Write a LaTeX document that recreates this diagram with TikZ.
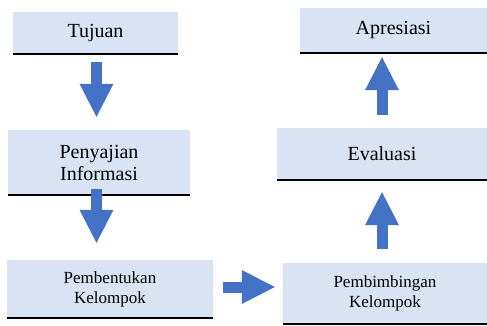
\documentclass[tikz,border=0pt]{standalone}
\usepackage{fontspec}
\setmainfont{Liberation Serif}
\usetikzlibrary{arrows.meta}
\definecolor{boxblue}{HTML}{DAE3F3}
\definecolor{arrowblue}{HTML}{4472C4}

\begin{document}
\begin{tikzpicture}[x=1pt,y=-1pt,
	box/.style={fill=boxblue, inner sep=0pt, align=center, font=\fontsize{20}{22}\selectfont},
	smallbox/.style={box, font=\fontsize{17}{20}\selectfont},
	blockarrow/.style={draw=arrowblue, line width=11pt, -{Triangle[length=33pt,width=34pt,line width=0pt]}}]
	\useasboundingbox (0,0) rectangle (487,325);
	% left column
	\node[box, minimum width=165pt, minimum height=42pt] (tujuan) at (95.5,33) {Tujuan};
	\node[box, minimum width=182pt, minimum height=65pt] (saji) at (99,162.5) {Penyajian\\Informasi};
	\node[smallbox, minimum width=206pt, minimum height=58pt] (bentuk) at (110,289) {Pembentukan\\Kelompok};
	% right column
	\node[smallbox, minimum width=204pt, minimum height=61pt] (bimbing) at (385,293.5) {Pembimbingan\\Kelompok};
	\node[box, minimum width=210pt, minimum height=52pt] (eval) at (382,154) {Evaluasi};
	\node[box, minimum width=187pt, minimum height=45pt] (apres) at (393.5,30.5) {Apresiasi};
	\foreach \n in {tujuan,saji,bentuk,bimbing,eval,apres}
		\draw[line width=2pt] (\n.south west) -- (\n.south east);
	% block arrows
	\draw[blockarrow, shorten <=8pt, shorten >=13pt] ([xshift=1pt]tujuan.south) -- ([xshift=1pt]tujuan.south |- saji.north);
	\draw[blockarrow, shorten <=-6pt, shorten >=17pt] ([xshift=-2.5pt]saji.south) -- ([xshift=-2.5pt]saji.south |- bentuk.north);
	\draw[blockarrow, shorten <=10pt, shorten >=8pt] ([yshift=2pt]bentuk.east) -- ([yshift=2pt]bentuk.east -| bimbing.west);
	\draw[blockarrow, shorten <=14pt, shorten >=12pt] (eval.south |- bimbing.north) -- (eval.south);
	\draw[blockarrow, shorten <=13pt, shorten >=4pt] (eval.north) -- (eval.north |- apres.south);
\end{tikzpicture}
\end{document}
